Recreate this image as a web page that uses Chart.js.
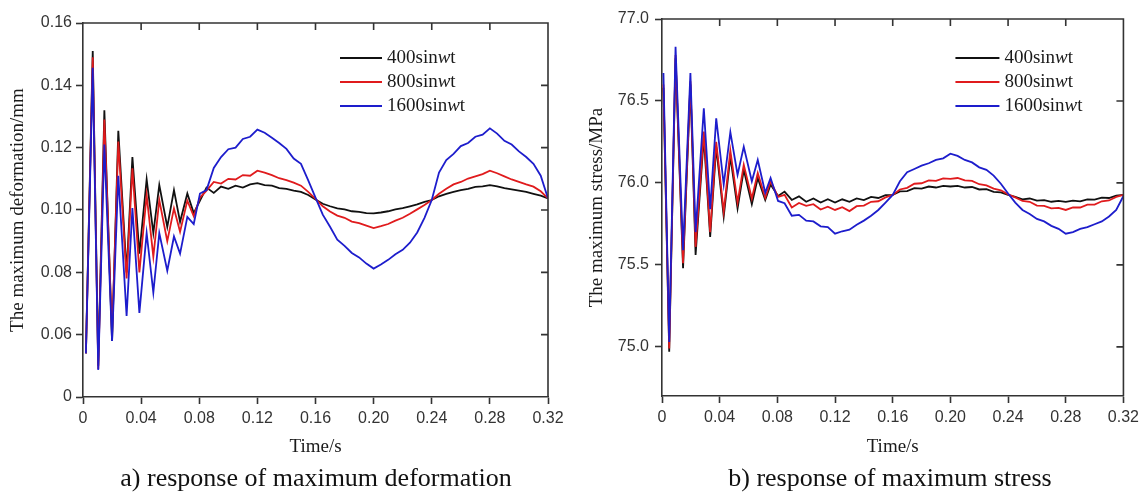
<!DOCTYPE html>
<html>
<head>
<meta charset="utf-8">
<script src="https://cdn.jsdelivr.net/npm/chart.js@4.4.1/dist/chart.umd.min.js"></script>
<style>
  html, body { margin: 0; padding: 0; background: #fff; }
  #wrap { position: relative; width: 1144px; height: 492px; overflow: hidden; }
  canvas { position: absolute; top: 0; }
  #chartA { left: 0; }
  #chartB { left: 572px; }
  .caption { position: absolute; top: 463px; width: 500px; text-align: center; white-space: nowrap;
             font: 26px/30px "Liberation Serif", "Times New Roman", serif; color: #111; }
</style>
</head>
<body>
<div id="wrap">
  <canvas id="chartA" width="572" height="492"></canvas>
  <canvas id="chartB" width="572" height="492"></canvas>
  <div class="caption" style="left:66px">a) response of maximum deformation</div>
  <div class="caption" style="left:640px">b) response of maximum stress</div>
</div>
<script>
'use strict';

const amplitudes = [400, 800, 1600];
const lineColors = ['#111111', '#e01b1d', '#1d1dcc'];

const xTicks = [0, 0.04, 0.08, 0.12, 0.16, 0.20, 0.24, 0.28, 0.32];

// deformation axis is broken: the bottom tick reads 0
const defTicks = [0.04, 0.06, 0.08, 0.10, 0.12, 0.14, 0.16];
const defTickLabels = ['0', '0.06', '0.08', '0.10', '0.12', '0.14', '0.16'];
const stressTicks = [75.0, 75.5, 76.0, 76.5, 77.0];
const stressTickLabels = ['75.0', '75.5', '76.0', '76.5', '77.0'];

// start-up ringing, one point per crest / trough
const defEarlyTime = [0.002, 0.0067, 0.0105, 0.0147, 0.020, 0.0243, 0.030, 0.034, 0.0388,
  0.0438, 0.0484, 0.0525, 0.058, 0.0626, 0.0668, 0.0718, 0.0762, 0.0805];
const stressEarlyTime = [0.001, 0.005, 0.0094, 0.0146, 0.0197, 0.0233, 0.029, 0.0334, 0.0376,
  0.0428, 0.0474, 0.0524, 0.0567, 0.0623, 0.0664, 0.0716, 0.0753, 0.0805];
// afterwards every 5 ms
const lateTime = [0.085, 0.09, 0.095, 0.1, 0.105, 0.11, 0.115, 0.12, 0.125, 0.13,
  0.135, 0.14, 0.145, 0.15, 0.155, 0.16, 0.165, 0.17, 0.175, 0.18,
  0.185, 0.19, 0.195, 0.2, 0.205, 0.21, 0.215, 0.22, 0.225, 0.23,
  0.235, 0.24, 0.245, 0.25, 0.255, 0.26, 0.265, 0.27, 0.275, 0.28,
  0.285, 0.29, 0.295, 0.3, 0.305, 0.31, 0.315, 0.32];

// maximum deformation, mm
const def400 = [0.054, 0.151, 0.050, 0.132, 0.058, 0.1254, 0.080, 0.117, 0.086, 0.1098, 0.0926, 0.108,
  0.0946, 0.1064, 0.0962, 0.1053, 0.099, 0.103,
  0.1072, 0.1055, 0.1075, 0.1068, 0.1078, 0.1072, 0.1082, 0.1086, 0.1080, 0.1078,
  0.1070, 0.1068, 0.1062, 0.1058, 0.1048, 0.1034, 0.1020, 0.1012, 0.1005, 0.1002,
  0.0996, 0.0994, 0.0990, 0.0989, 0.0992, 0.0996, 0.1002, 0.1006, 0.1012, 0.1018,
  0.1026, 0.1032, 0.1044, 0.1052, 0.1058, 0.1064, 0.1068, 0.1074, 0.1076, 0.1080,
  0.1076, 0.1070, 0.1066, 0.1062, 0.1058, 0.1052, 0.1046, 0.1037];
const def800 = [0.054, 0.149, 0.049, 0.129, 0.060, 0.122, 0.078, 0.1134, 0.080, 0.1048, 0.085, 0.1032,
  0.090, 0.1005, 0.093, 0.103, 0.098, 0.104,
  0.1062, 0.1090, 0.1085, 0.1100, 0.1098, 0.1112, 0.1110, 0.1126, 0.1120, 0.1112,
  0.1102, 0.1096, 0.1088, 0.1078, 0.1058, 0.1036, 0.1012, 0.0995, 0.0982, 0.0975,
  0.0963, 0.0958, 0.0950, 0.0942, 0.0948, 0.0955, 0.0966, 0.0975, 0.0988, 0.1002,
  0.1016, 0.1032, 0.1052, 0.1068, 0.1082, 0.1090, 0.1101, 0.1108, 0.1115, 0.1126,
  0.1118, 0.1108, 0.1098, 0.1090, 0.1082, 0.1075, 0.1060, 0.1037];
const def1600 = [0.054, 0.1456, 0.0487, 0.121, 0.058, 0.111, 0.066, 0.1006, 0.067, 0.0926, 0.0735, 0.0926,
  0.0805, 0.0915, 0.086, 0.0978, 0.0955, 0.1053,
  0.1064, 0.1135, 0.1170, 0.1195, 0.1200, 0.1228, 0.1235, 0.1258, 0.1248, 0.1232,
  0.1215, 0.1196, 0.1165, 0.1148, 0.1095, 0.1040, 0.0985, 0.0946, 0.0905, 0.0885,
  0.0862, 0.0848, 0.0828, 0.0812, 0.0825, 0.0840, 0.0858, 0.0872, 0.0895, 0.0928,
  0.0975, 0.1032, 0.1120, 0.1160, 0.1180, 0.1205, 0.1215, 0.1235, 0.1242, 0.1262,
  0.1245, 0.1222, 0.1210, 0.1188, 0.1170, 0.1148, 0.1110, 0.1037];

// maximum stress, MPa
const stress400 = [76.58, 74.97, 76.76, 75.48, 76.60, 75.56, 76.28, 75.67, 76.22, 75.795, 76.16, 75.845,
  76.08, 75.87, 76.03, 75.896, 75.99, 75.92,
  75.947, 75.896, 75.918, 75.885, 75.905, 75.880, 75.900, 75.880, 75.900, 75.885,
  75.905, 75.895, 75.915, 75.908, 75.925, 75.927, 75.948, 75.950, 75.968, 75.965,
  75.978, 75.972, 75.982, 75.978, 75.982, 75.972, 75.975, 75.960, 75.962, 75.945,
  75.942, 75.927, 75.915, 75.900, 75.905, 75.892, 75.895, 75.885, 75.890, 75.884,
  75.892, 75.888, 75.900, 75.898, 75.910, 75.908, 75.922, 75.927];
const stress800 = [76.60, 74.99, 76.78, 75.51, 76.62, 75.61, 76.313, 75.70, 76.25, 75.825, 76.197, 75.88,
  76.11, 75.905, 76.06, 75.91, 76.01, 75.915,
  75.927, 75.850, 75.878, 75.860, 75.870, 75.838, 75.855, 75.835, 75.852, 75.828,
  75.858, 75.862, 75.885, 75.888, 75.912, 75.927, 75.960, 75.970, 75.995, 75.998,
  76.015, 76.012, 76.028, 76.025, 76.030, 76.015, 76.012, 75.992, 75.985, 75.965,
  75.955, 75.930, 75.912, 75.890, 75.885, 75.862, 75.860, 75.845, 75.848, 75.835,
  75.850, 75.850, 75.868, 75.868, 75.888, 75.893, 75.915, 75.927];
const stress1600 = [76.67, 75.03, 76.83, 75.59, 76.67, 75.70, 76.455, 75.84, 76.394, 75.99, 76.31, 76.05,
  76.22, 76.01, 76.14, 75.94, 76.03, 75.89,
  75.876, 75.800, 75.805, 75.770, 75.765, 75.735, 75.730, 75.690, 75.705, 75.715,
  75.745, 75.770, 75.800, 75.835, 75.880, 75.927, 76.010, 76.065, 76.085, 76.105,
  76.120, 76.140, 76.150, 76.178, 76.165, 76.140, 76.125, 76.095, 76.080, 76.045,
  75.995, 75.935, 75.880, 75.835, 75.810, 75.780, 75.765, 75.738, 75.720, 75.690,
  75.700, 75.720, 75.730, 75.748, 75.765, 75.795, 75.835, 75.920];

const axisColor = '#333';
const axisWidth = 1.6;
const tickLen = 7;
const sansFont = '"Liberation Sans", Arial, sans-serif';
const serifFont = '"Liberation Serif", "Times New Roman", serif';

// top and right edges with inward ticks
const frameBox = {
  id: 'frameBox',
  afterDraw(chart) {
    const { ctx, chartArea: a, scales: { x, y } } = chart;
    ctx.save();
    ctx.strokeStyle = axisColor;
    ctx.lineWidth = axisWidth;
    ctx.beginPath();
    ctx.moveTo(a.left, a.top);
    ctx.lineTo(a.right, a.top);
    ctx.lineTo(a.right, a.bottom);
    x.ticks.forEach(t => {
      const px = x.getPixelForValue(t.value);
      if (px > a.left + 2 && px < a.right - 2) {
        ctx.moveTo(px, a.top);
        ctx.lineTo(px, a.top + tickLen);
      }
    });
    y.ticks.forEach(t => {
      const py = y.getPixelForValue(t.value);
      if (py > a.top + 2 && py < a.bottom - 2) {
        ctx.moveTo(a.right, py);
        ctx.lineTo(a.right - tickLen, py);
      }
    });
    ctx.stroke();
    ctx.restore();
  }
};

// legend with the italic w in "sinwt"
const seriesKey = {
  id: 'seriesKey',
  afterDraw(chart, args, opts) {
    const { ctx, chartArea: a } = chart;
    const x0 = a.right - opts.fromRight;
    const plain = '19px ' + serifFont;
    const italic = 'italic 19px ' + serifFont;
    ctx.save();
    ctx.textBaseline = 'middle';
    amplitudes.forEach((amp, i) => {
      const y = a.top + opts.firstRow + i * opts.rowGap;
      ctx.strokeStyle = lineColors[i];
      ctx.lineWidth = 2;
      ctx.beginPath();
      ctx.moveTo(x0, y);
      ctx.lineTo(x0 + opts.lineLen, y);
      ctx.stroke();
      ctx.fillStyle = '#1a1a1a';
      let tx = x0 + opts.lineLen + 5;
      const head = amp + 'sin';
      ctx.font = plain;
      ctx.fillText(head, tx, y);
      tx += ctx.measureText(head).width;
      ctx.font = italic;
      ctx.fillText('w', tx, y);
      tx += ctx.measureText('w').width;
      ctx.font = plain;
      ctx.fillText('t', tx, y);
    });
    ctx.restore();
  }
};

function makeChart(canvasId, time, series, yAxis, lay) {
  const datasets = series.map((values, i) => ({
    label: amplitudes[i] + 'sinwt',
    data: time.map((t, j) => ({ x: t, y: values[j] })),
    borderColor: lineColors[i],
    borderWidth: 1.8,
    pointRadius: 0,
    tension: 0,
    fill: false,
    order: series.length - i
  }));

  return new Chart(document.getElementById(canvasId), {
    type: 'line',
    data: { datasets },
    options: {
      responsive: false,
      animation: false,
      events: [],
      layout: { padding: { top: lay.top, right: lay.right, left: 0, bottom: 0 } },
      plugins: {
        legend: { display: false },
        tooltip: { enabled: false },
        seriesKey: lay.key
      },
      scales: {
        x: {
          type: 'linear',
          min: 0,
          max: 0.32,
          afterBuildTicks: s => { s.ticks = xTicks.map(v => ({ value: v })); },
          afterFit: s => { s.height = lay.xHeight; },
          ticks: {
            autoSkip: false, maxRotation: 0, padding: 5, color: '#333',
            font: { family: sansFont, size: 16 },
            callback: v => (v === 0 ? '0' : v.toFixed(2))
          },
          grid: { drawOnChartArea: false, tickLength: tickLen, tickWidth: axisWidth, tickColor: axisColor },
          border: { display: true, color: axisColor, width: axisWidth },
          title: {
            display: true, text: 'Time/s', color: '#1a1a1a',
            font: { family: serifFont, size: 19 },
            padding: { top: 0, bottom: 34 }
          }
        },
        y: {
          type: 'linear',
          min: yAxis.min,
          max: yAxis.max,
          afterBuildTicks: s => { s.ticks = yAxis.ticks.map(v => ({ value: v })); },
          afterFit: s => { s.width = lay.yWidth; },
          ticks: {
            autoSkip: false, padding: lay.yLabelPad, color: '#333',
            font: { family: sansFont, size: 16 },
            callback: (v, i) => yAxis.labels[i]
          },
          grid: { drawOnChartArea: false, tickLength: tickLen, tickWidth: axisWidth, tickColor: axisColor },
          border: { display: true, color: axisColor, width: axisWidth },
          title: {
            display: true, text: yAxis.title, color: '#1a1a1a',
            font: { family: serifFont, size: 19 },
            padding: { top: lay.yTitlePad, bottom: 0 }
          }
        }
      }
    },
    plugins: [frameBox, seriesKey]
  });
}

makeChart('chartA', defEarlyTime.concat(lateTime), [def400, def800, def1600],
  { min: 0.04, max: 0.16, ticks: defTicks, labels: defTickLabels, title: 'The maximum deformation/mm' },
  { top: 23, right: 24, xHeight: 95, yWidth: 83, yLabelPad: 4, yTitlePad: 7, 
    key: { fromRight: 208, lineLen: 42, firstRow: 35, rowGap: 24 } });

makeChart('chartB', stressEarlyTime.concat(lateTime), [stress400, stress800, stress1600],
  { min: 74.7, max: 77.0, ticks: stressTicks, labels: stressTickLabels, title: 'The maximum stress/MPa' },
  { top: 19, right: 16, xHeight: 96, yWidth: 90, yLabelPad: 6, yTitlePad: 14,
    key: { fromRight: 168, lineLen: 44, firstRow: 39, rowGap: 24 } });
</script>
</body>
</html>
